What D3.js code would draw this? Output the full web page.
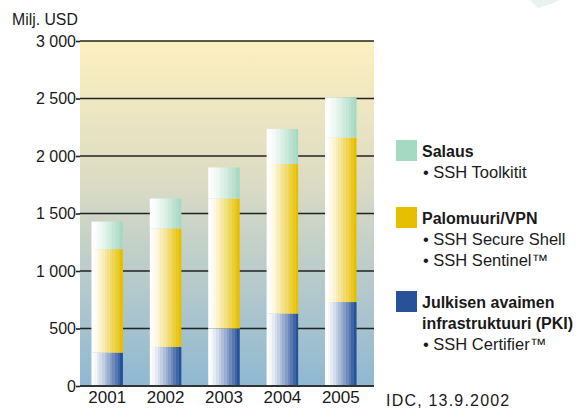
<!DOCTYPE html>
<html>
<head>
<meta charset="utf-8">
<script src="https://cdn.jsdelivr.net/npm/d3@7"></script>
<style>
  body { margin: 0; background: #fff; }
  text { font-family: "Liberation Sans", Arial, sans-serif; fill: #1a1a1a; }
</style>
</head>
<body>
<div id="chart"></div>
<script>
// data (Milj. USD)
const years = ["2001", "2002", "2003", "2004", "2005"];
const pki = [290, 340, 500, 630, 730];
const palomuuri = [900, 1030, 1130, 1300, 1430];
const salaus = [240, 260, 270, 305, 350];
const yTicks = [0, 500, 1000, 1500, 2000, 2500, 3000];

const series_keys = ["pki", "palomuuri", "salaus"];
const series_colors = { pki: "#27529a", palomuuri: "#e6c000", salaus: "#a6d9c2" };

const W = 584, H = 409;
const margin = { top: 41, bottom: 23, left: 80, right: 210 };
const width = W - margin.left - margin.right;
const height = H - margin.top - margin.bottom;

const svg = d3.select("#chart").append("svg")
    .attr("width", W)
    .attr("height", H);

const defs = svg.append("defs");

// background of the plot, yellow at top to blue at bottom
const bg = defs.append("linearGradient")
    .attr("id", "bg")
    .attr("x1", 0).attr("y1", 0).attr("x2", 0).attr("y2", 1);
bg.append("stop").attr("offset", "0%").attr("stop-color", "#fdf0bf");
bg.append("stop").attr("offset", "40%").attr("stop-color", "#dcdcc4");
bg.append("stop").attr("offset", "100%").attr("stop-color", "#8fb8d2");

// stepped white -> colour gradient for each series
function band_gradient(id, color)
{
    const g = defs.append("linearGradient").attr("id", id)
        .attr("x1", 0).attr("y1", 0).attr("x2", 1).attr("y2", 0);
    const steps = 12;
    const interp = d3.interpolateRgb("#ffffff", color);
    for (let i = 0; i < steps; i++) {
        const c = interp(Math.pow(i / (steps - 1), 1.25));
        g.append("stop").attr("offset", (i / steps * 100) + "%").attr("stop-color", c);
        g.append("stop").attr("offset", ((i + 1) / steps * 100) + "%").attr("stop-color", c);
    }
}
series_keys.forEach(k => band_gradient("grad-" + k, series_colors[k]));

// faint decoration top right
svg.append("path")
    .attr("d", "M530,0 L560,0 Q552,4 538,8 Z")
    .attr("fill", "#e9f2ef");

const canvas = svg.append("g")
    .attr("transform", `translate(${margin.left},${margin.top})`);

const xScale = d3.scaleBand()
    .domain(years)
    .range([-2, 290])
    .paddingInner(0.46)
    .paddingOuter(0.23);

const yScale = d3.scaleLinear()
    .domain([0, 3000])
    .range([height, 0]);

canvas.append("rect")
    .attr("width", width)
    .attr("height", height)
    .attr("fill", "url(#bg)");

// grid lines
canvas.append("g")
    .selectAll("line")
    .data(yTicks.filter(d => d > 0))
    .enter().append("line")
    .attr("x1", 0).attr("x2", width)
    .attr("y1", d => yScale(d)).attr("y2", d => yScale(d))
    .attr("stroke", "#222")
    .attr("stroke-width", 1.6);

// stacked bars
const table = years.map((y, i) => ({ year: y, pki: pki[i], palomuuri: palomuuri[i], salaus: salaus[i] }));
const stack = d3.stack().keys(series_keys);
const stacked = stack(table);

canvas.append("g")
    .selectAll("g")
    .data(stacked)
    .enter().append("g")
    .attr("fill", d => "url(#grad-" + d.key + ")")
    .selectAll("rect")
    .data(d => d)
    .enter().append("rect")
    .attr("x", d => xScale(d.data.year))
    .attr("y", d => yScale(d[1]))
    .attr("height", d => yScale(d[0]) - yScale(d[1]))
    .attr("width", xScale.bandwidth());

// baseline
canvas.append("line")
    .attr("x1", 0).attr("x2", width)
    .attr("y1", height).attr("y2", height)
    .attr("stroke", "#333")
    .attr("stroke-width", 2);

// y axis
const yAxis = canvas.append("g")
    .call(d3.axisLeft(yScale).tickValues(yTicks).tickSize(4).tickPadding(0)
        .tickFormat(d => d3.format(",")(d).replace(",", " ")));
yAxis.select(".domain").remove();
yAxis.selectAll(".tick line").attr("stroke", "#222").attr("stroke-width", 1.6);
yAxis.selectAll("text").style("font-size", "16px").attr("fill", "#1a1a1a").attr("dy", "0.34em");

// x axis
const xAxis = canvas.append("g")
    .attr("transform", `translate(0,${height})`)
    .call(d3.axisBottom(xScale).tickSize(0).tickPadding(5));
xAxis.select(".domain").remove();
xAxis.selectAll("text").style("font-size", "17px").attr("fill", "#1a1a1a");

svg.append("text")
    .attr("x", 12).attr("y", 25)
    .style("font-size", "15.8px")
    .text("Milj. USD");

// legend
const legend_items = [
    { key: "salaus", y: 140, title: ["Salaus"], sub: ["• SSH Toolkitit"] },
    { key: "palomuuri", y: 207, title: ["Palomuuri/VPN"], sub: ["• SSH Secure Shell", "• SSH Sentinel™"] },
    { key: "pki", y: 291, title: ["Julkisen avaimen", "infrastruktuuri (PKI)"], sub: ["• SSH Certifier™"] }
];
const legend = svg.append("g");
legend_items.forEach(function (item) {
    legend.append("rect")
        .attr("x", 396).attr("y", item.y)
        .attr("width", 21).attr("height", 21)
        .attr("fill", series_colors[item.key]);
    let ly = item.y + 17;
    item.title.forEach(function (t) {
        legend.append("text")
            .attr("x", 422).attr("y", ly)
            .style("font-size", "16px")
            .style("font-weight", "bold")
            .text(t);
        ly += 21;
    });
    item.sub.forEach(function (t) {
        legend.append("text")
            .attr("x", 423).attr("y", ly)
            .style("font-size", "16.5px")
            .text(t);
        ly += 21;
    });
});

svg.append("text")
    .attr("x", 386).attr("y", 406)
    .style("font-size", "16px")
    .style("letter-spacing", "1.2px")
    .text("IDC, 13.9.2002");
</script>
</body>
</html>
